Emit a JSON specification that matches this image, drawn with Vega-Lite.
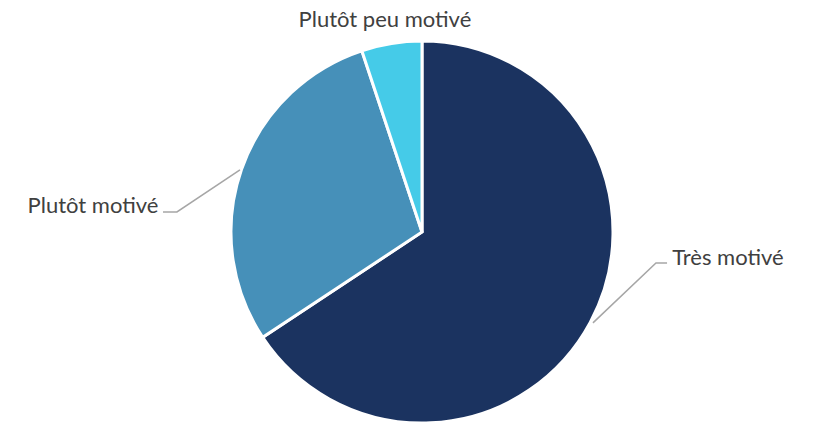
{
  "$schema": "https://vega.github.io/schema/vega-lite/v6.json",
  "width": 792,
  "height": 382,
  "autosize": {"type": "none"},
  "padding": {"left": 26, "right": 0, "top": 41, "bottom": 0},
  "background": "white",
  "view": {"stroke": null},
  "datasets": {
    "slices": [
      {"categorie": "Très motivé", "part": 65.7, "ordre": 1},
      {"categorie": "Plutôt motivé", "part": 29.2, "ordre": 2},
      {"categorie": "Plutôt peu motivé", "part": 5.1, "ordre": 3}
    ],
    "leaders": [
      {"categorie": "Très motivé", "i": 1, "u": 0.895, "v": -0.476},
      {"categorie": "Très motivé", "i": 2, "u": 1.225, "v": -0.162},
      {"categorie": "Très motivé", "i": 3, "u": 1.283, "v": -0.162},
      {"categorie": "Plutôt motivé", "i": 1, "u": -0.953, "v": 0.325},
      {"categorie": "Plutôt motivé", "i": 2, "u": -1.283, "v": 0.105},
      {"categorie": "Plutôt motivé", "i": 3, "u": -1.356, "v": 0.105}
    ],
    "labels": [
      {"categorie": "Très motivé", "u": 1.31, "v": -0.136, "align": "left"},
      {"categorie": "Plutôt motivé", "u": -1.38, "v": 0.136, "align": "right"},
      {"categorie": "Plutôt peu motivé", "u": -0.194, "v": 1.11, "align": "center"}
    ]
  },
  "layer": [
    {
      "data": {"name": "slices"},
      "mark": {"type": "arc", "stroke": "white", "strokeWidth": 3},
      "encoding": {
        "theta": {"field": "part", "type": "quantitative", "stack": true, "scale": {"type": "linear", "domain": [0, 100], "range": [0, 6.283185307]}},
        "order": {"field": "ordre", "type": "quantitative"},
        "color": {
          "field": "categorie", "type": "nominal", "legend": null,
          "scale": {"domain": ["Très motivé", "Plutôt motivé", "Plutôt peu motivé"], "range": ["#1b3360", "#4690b9", "#45cbe8"]}
        }
      }
    },
    {
      "data": {"name": "leaders"},
      "mark": {"type": "line", "color": "#a6a6a6", "strokeWidth": 1.5},
      "encoding": {
        "x": {"field": "u", "type": "quantitative", "scale": {"domain": [-2.0733, 2.0733], "nice": false, "zero": false}, "axis": null},
        "y": {"field": "v", "type": "quantitative", "scale": {"domain": [-1, 1], "nice": false, "zero": false}, "axis": null},
        "detail": {"field": "categorie"},
        "order": {"field": "i", "type": "quantitative"}
      }
    },
    {
      "data": {"name": "labels"},
      "transform": [{"filter": "datum.align == 'left'"}],
      "mark": {"type": "text", "align": "left", "baseline": "middle", "font": "Lato", "fontSize": 22, "color": "#404040"},
      "encoding": {
        "x": {"field": "u", "type": "quantitative"},
        "y": {"field": "v", "type": "quantitative"},
        "text": {"field": "categorie"}
      }
    },
    {
      "data": {"name": "labels"},
      "transform": [{"filter": "datum.align == 'right'"}],
      "mark": {"type": "text", "align": "right", "baseline": "middle", "font": "Lato", "fontSize": 22, "color": "#404040"},
      "encoding": {
        "x": {"field": "u", "type": "quantitative"},
        "y": {"field": "v", "type": "quantitative"},
        "text": {"field": "categorie"}
      }
    },
    {
      "data": {"name": "labels"},
      "transform": [{"filter": "datum.align == 'center'"}],
      "mark": {"type": "text", "align": "center", "baseline": "middle", "font": "Lato", "fontSize": 22, "color": "#404040"},
      "encoding": {
        "x": {"field": "u", "type": "quantitative"},
        "y": {"field": "v", "type": "quantitative"},
        "text": {"field": "categorie"}
      }
    }
  ]
}
